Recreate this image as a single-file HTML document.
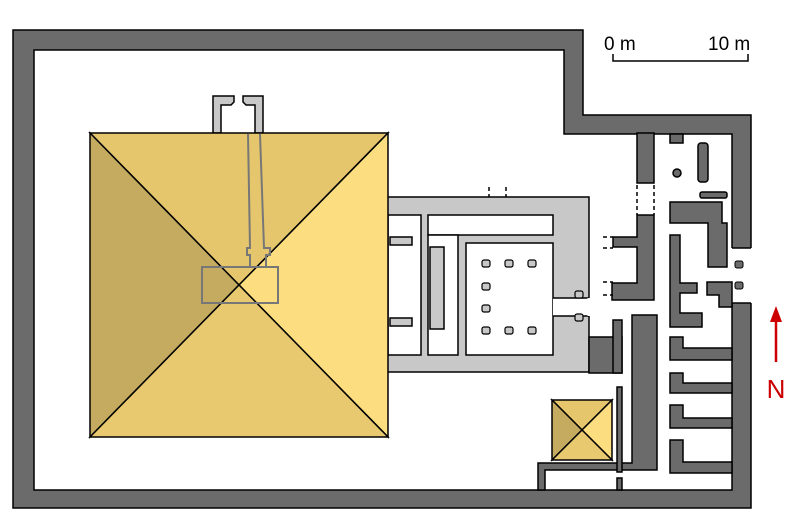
<!DOCTYPE html>
<html><head><meta charset="utf-8"><style>html,body{margin:0;padding:0;background:#fff}svg{display:block}</style></head><body>
<svg width="800" height="527" viewBox="0 0 800 527" xmlns="http://www.w3.org/2000/svg">
<rect width="800" height="527" fill="#fff"/>
<path d="M13,30 H583 V115 H751 V508 H13 Z M34,50 V490 H732 V134 H564 V50 Z" fill="#6b6b6b" fill-rule="evenodd" stroke="#000" stroke-width="1.5"/>
<rect x="731" y="248" width="22" height="55" fill="#fff"/>
<line x1="732" y1="248" x2="751" y2="248" stroke="#000" stroke-width="1.5"/>
<line x1="732" y1="303" x2="751" y2="303" stroke="#000" stroke-width="1.5"/>
<rect x="735" y="261" width="8" height="7" rx="2" fill="#6b6b6b" stroke="#000"/>
<rect x="735" y="282" width="8" height="7" rx="2" fill="#6b6b6b" stroke="#000"/>

<g stroke="#000" stroke-width="1.5">
<rect x="386" y="197" width="203" height="175" fill="#c8c8c8"/>
<rect x="589" y="337" width="33" height="36" fill="#6b6b6b"/>
<g fill="#fff">
<rect x="388" y="215" width="33" height="140"/>
<rect x="428" y="215" width="125" height="20"/>
<rect x="428" y="235" width="30" height="120"/>
<rect x="466" y="243" width="87" height="112"/>
<rect x="553" y="298" width="37" height="18" stroke="none"/>
</g>
<rect x="430" y="247" width="14" height="82" fill="#c8c8c8"/>
<rect x="390" y="237" width="22" height="8" fill="#c8c8c8"/>
<rect x="390" y="318" width="22" height="8" fill="#c8c8c8"/>
</g>
<line x1="553" y1="298" x2="589" y2="298" stroke="#000" stroke-width="1.5"/>
<line x1="553" y1="316" x2="589" y2="316" stroke="#000" stroke-width="1.5"/>
<line x1="589" y1="298" x2="589" y2="316" stroke="#fff" stroke-width="3"/>
<g fill="#c8c8c8" stroke="#000" stroke-width="1.2">
<rect x="482" y="260" width="8" height="7" rx="2"/><rect x="505" y="260" width="8" height="7" rx="2"/><rect x="528" y="260" width="8" height="7" rx="2"/>
<rect x="482" y="283" width="8" height="7" rx="2"/><rect x="482" y="305" width="8" height="7" rx="2"/>
<rect x="482" y="327" width="8" height="7" rx="2"/><rect x="505" y="327" width="8" height="7" rx="2"/><rect x="528" y="327" width="8" height="7" rx="2"/>
<rect x="575" y="291" width="8" height="7" rx="2"/><rect x="575" y="314" width="8" height="7" rx="2"/>
</g>

<g fill="#6b6b6b" stroke="#000" stroke-width="1.5">
<rect x="637" y="133" width="17" height="50"/>
<path d="M637,215 H654 V300 H612 V283 H637 V247 H613 V237 H637 Z"/>
<rect x="670" y="134" width="13" height="9"/>
<path d="M670,202 H722 V223 H727 V267 H708 V223 H670 Z"/>
<rect x="698" y="143" width="10" height="39" rx="3"/>
<rect x="700" y="192" width="27" height="6" rx="2"/>
<circle cx="677" cy="173" r="4"/>
<path d="M670,235 H680 V283 H697 V293 H680 V313 H702 V327 H670 Z"/>
<path d="M707,282 H732 V307 H719 V295 H707 Z"/>
<path d="M670,337 H683 V348 H732 V360 H670 Z"/>
<path d="M670,373 H683 V383 H732 V393 H670 Z"/>
<path d="M670,405 H683 V418 H732 V428 H670 Z"/>
<path d="M670,440 H683 V462 H732 V473 H670 Z"/>
<path d="M632,315 H657 V470 H545 V490 H538 V463 H632 Z"/>
<rect x="613" y="320" width="9" height="53"/>
<rect x="617" y="387" width="5" height="85"/>
<rect x="617" y="478" width="5" height="12"/>
</g>
<g stroke="#000" stroke-width="1.5" stroke-dasharray="4,3">
<line x1="489" y1="187" x2="489" y2="197"/><line x1="506" y1="187" x2="506" y2="197"/>
<line x1="637" y1="185" x2="637" y2="215"/><line x1="654" y1="185" x2="654" y2="215"/>
<line x1="603" y1="237" x2="613" y2="237"/><line x1="603" y1="248" x2="613" y2="248"/>
<line x1="603" y1="282" x2="613" y2="282"/><line x1="603" y1="295" x2="613" y2="295"/>
</g>

<g fill="#c8c8c8" stroke="#000" stroke-width="1.5">
<path d="M213,133 V96 H234 V102 L231,105 H221 V133 Z"/>
<path d="M263,133 V96 H243 V102 L246,105 H255 V133 Z"/>
</g>

<g stroke="#000" stroke-width="1.5">
<polygon points="90,133 388,133 239,285" fill="#e6c66c"/>
<polygon points="90,133 239,285 90,437" fill="#c4ab60"/>
<polygon points="388,133 388,437 239,285" fill="#fcdd80"/>
<polygon points="90,437 388,437 239,285" fill="#e8c970"/>
</g>
<g fill="none" stroke="#777" stroke-width="2">
<path d="M248,134 L250,248 H247 V255 H250 V267"/>
<path d="M260,134 L264,248 H270 V255 H266 V267"/>
<rect x="202" y="267" width="76" height="36"/>
</g>
<g stroke="#000" stroke-width="1.5">
<polygon points="552,400 612,400 582,430" fill="#e6c66c"/>
<polygon points="552,400 582,430 552,460" fill="#c4ab60"/>
<polygon points="612,400 612,460 582,430" fill="#fcdd80"/>
<polygon points="552,460 612,460 582,430" fill="#e8c970"/>
</g>

<g font-family="Liberation Sans, sans-serif" font-size="19" fill="#000">
<text x="604" y="50">0 m</text><text x="708" y="50">10 m</text>
</g>
<path d="M613,54 V61 H748 V54" fill="none" stroke="#000" stroke-width="1.5"/>
<line x1="776" y1="318" x2="776" y2="362" stroke="#c00" stroke-width="2.5"/>
<polygon points="776,306 770,322 782,322" fill="#c00"/>
<text x="776" y="398" text-anchor="middle" font-family="Liberation Sans, sans-serif" font-size="26" fill="#c00">N</text>
</svg>
</body></html>
